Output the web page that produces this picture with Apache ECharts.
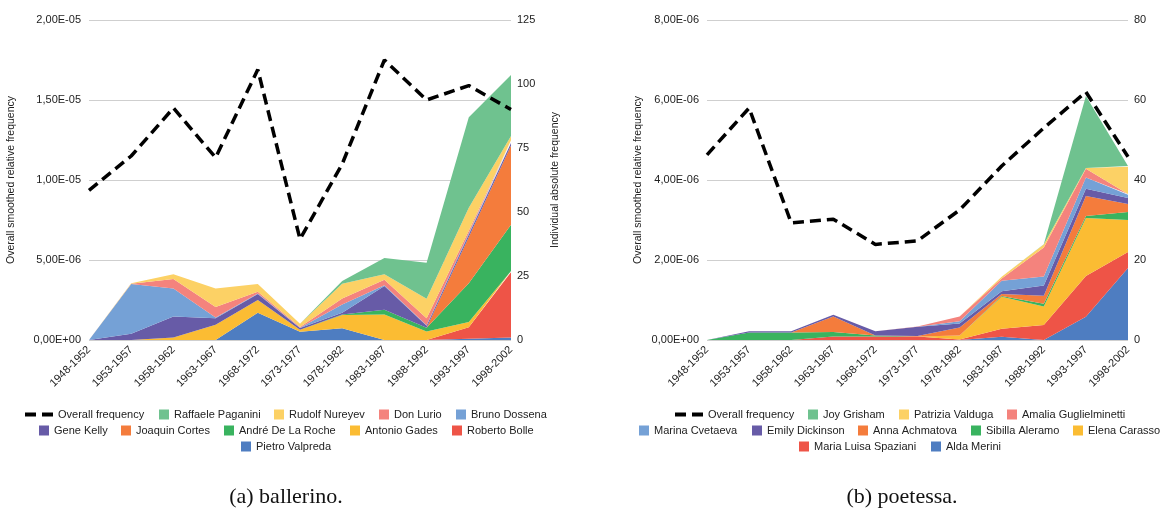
<!DOCTYPE html>
<html>
<head>
<meta charset="utf-8">
<script src="https://cdn.jsdelivr.net/npm/echarts@6/dist/echarts.min.js"></script>
<style>
  html, body { margin: 0; padding: 0; background: #fff; }
  #chart { width: 1164px; height: 515px; }
</style>
</head>
<body>
<div id="chart"></div>
<script>
// Five-year periods shared by both panels
const periods = ['1948-1952', '1953-1957', '1958-1962', '1963-1967', '1968-1972',
  '1973-1977', '1978-1982', '1983-1987', '1988-1992', '1993-1997', '1998-2002'];

// Panel (a) ballerino: overall smoothed relative frequency
const ballerinoOverall = [9.35e-6, 1.15e-5, 1.45e-5, 1.14e-5, 1.69e-5, 6.3e-6, 1.1e-5, 1.75e-5, 1.5e-5, 1.59e-5, 1.44e-5];
// Panel (a) individual absolute frequencies (stack bottom to top)
const pietroValpreda   = [0, 0, 0, 0, 10.6, 3.2, 4.6, 0, 0, 0.5, 1.0];
const robertoBolle     = [0, 0, 0, 0, 0, 0, 0, 0, 0, 4.5, 25.5];
const antonioGades     = [0, 0, 1.0, 6.0, 5.0, 0.8, 5.2, 10.0, 3.3, 2.0, 0.5];
const andreDeLaRoche   = [0, 0, 0, 0, 0, 0, 0.2, 1.8, 1.5, 15.2, 18];
const joaquinCortes    = [0, 0, 0, 0, 0, 0, 0, 0, 0, 18, 31];
const geneKelly        = [0, 2.4, 8.2, 2.5, 2.4, 0.7, 0.6, 9.3, 0.8, 1.0, 1.0];
const brunoDossena     = [0, 19.5, 10.9, 0.3, 0.2, 0.1, 3.3, 0.3, 0.2, 0.5, 0.3];
const donLurio         = [0, 0.1, 3.7, 4.1, 0.6, 0.3, 2.3, 2.1, 2.7, 1.0, 0.7];
const rudolfNureyev    = [0, 0.2, 1.9, 7.2, 3.1, 1.2, 5.8, 2.2, 7.6, 9.0, 1.7];
const raffaelePaganini = [0, 0, 0, 0, 0, 0, 1.0, 6.3, 14.1, 35.3, 23.8];

// Panel (b) poetessa: overall smoothed relative frequency
const poetessaOverall = [4.63e-6, 5.8e-6, 2.93e-6, 3.02e-6, 2.39e-6, 2.48e-6, 3.25e-6, 4.35e-6, 5.3e-6, 6.2e-6, 4.58e-6];
// Panel (b) individual absolute frequencies (stack bottom to top)
const aldaMerini           = [0, 0, 0, 0, 0, 0, 0, 0.8, 0, 5.8, 18];
const mariaLuisaSpaziani   = [0, 0, 0, 0.9, 0.9, 0.9, 0.1, 2.0, 3.75, 10.2, 4];
const elenaCarasso         = [0, 0, 0, 0, 0, 0, 1.0, 8.0, 4.6, 14.5, 8];
const sibillaAleramo       = [0, 1.9, 1.9, 1.1, 0.2, 0, 0, 0.2, 0.7, 0.5, 2];
const annaAchmatova        = [0, 0, 0, 3.9, 0, 0.1, 2.0, 0.5, 2.0, 5.0, 2];
const emilyDickinson       = [0, 0.3, 0.3, 0.4, 1.1, 2.3, 1.0, 0.7, 2.6, 1.8, 1.5];
const marinaCvetaeva       = [0, 0, 0, 0, 0, 0, 0.6, 2.6, 2.2, 2.8, 0.8];
const amaliaGuglielminetti = [0, 0, 0, 0, 0, 0.1, 1.2, 0.6, 7.3, 2.2, 0.2];
const patriziaValduga      = [0, 0, 0, 0, 0, 0, 0, 0.4, 0.7, 0.2, 6.8];
const joyGrisham           = [0, 0, 0, 0, 0, 0, 0, 0, 0.1, 18, 0.2];

// Palette, bottom of stack to top
const palette = ['#4e7dc1', '#ee5447', '#fbbc33', '#39b35f', '#f47c3c',
  '#675ba7', '#75a1d6', '#f4837d', '#fcd165', '#6fc28f'];

const ballerinoStack = [
  ['Pietro Valpreda', pietroValpreda], ['Roberto Bolle', robertoBolle],
  ['Antonio Gades', antonioGades], ['André De La Roche', andreDeLaRoche],
  ['Joaquin Cortes', joaquinCortes], ['Gene Kelly', geneKelly],
  ['Bruno Dossena', brunoDossena], ['Don Lurio', donLurio],
  ['Rudolf Nureyev', rudolfNureyev], ['Raffaele Paganini', raffaelePaganini]
];
const poetessaStack = [
  ['Alda Merini', aldaMerini], ['Maria Luisa Spaziani', mariaLuisaSpaziani],
  ['Elena Carasso', elenaCarasso], ['Sibilla Aleramo', sibillaAleramo],
  ['Anna Achmatova', annaAchmatova], ['Emily Dickinson', emilyDickinson],
  ['Marina Cvetaeva', marinaCvetaeva], ['Amalia Guglielminetti', amaliaGuglielminetti],
  ['Patrizia Valduga', patriziaValduga], ['Joy Grisham', joyGrisham]
];

const FONT = '"Liberation Sans", Arial, sans-serif';
const TEXT_COLOR = '#222';

function sciLabel(v) {
  const [m, e] = v.toExponential(2).split('e');
  const sign = e[0] === '-' ? '-' : '+';
  const digits = e.replace(/[+-]/, '').padStart(2, '0');
  return m.replace('.', ',') + 'E' + sign + digits;
}

const grids = [
  { left: 89, width: 422, top: 20, height: 320 },
  { left: 707, width: 421, top: 20, height: 320 }
];

function xAxisFor(gi) {
  return {
    type: 'category', gridIndex: gi, data: periods, boundaryGap: false,
    axisLine: { show: false }, axisTick: { show: false },
    axisLabel: { rotate: 45, fontSize: 11, fontFamily: FONT, color: TEXT_COLOR, margin: 8, interval: 0 }
  };
}

function leftAxis(gi, max, interval, nameGap) {
  return {
    type: 'value', gridIndex: gi, min: 0, max: max, interval: interval, position: 'left',
    name: 'Overall smoothed relative frequency', nameLocation: 'middle', nameGap: nameGap,
    nameTextStyle: { fontSize: 10.5, fontFamily: FONT, color: TEXT_COLOR },
    axisLine: { show: false }, axisTick: { show: false },
    splitLine: { lineStyle: { color: '#cfcfcf', width: 1 } },
    axisLabel: { formatter: sciLabel, fontSize: 11, fontFamily: FONT, color: TEXT_COLOR, margin: 8 }
  };
}

function rightAxis(gi, max, interval, name) {
  return {
    type: 'value', gridIndex: gi, min: 0, max: max, interval: interval, position: 'right',
    name: name, nameLocation: 'middle', nameGap: 39,
    nameTextStyle: { fontSize: 10.5, fontFamily: FONT, color: TEXT_COLOR },
    axisLine: { show: false }, axisTick: { show: false }, splitLine: { show: false },
    axisLabel: { fontSize: 11, fontFamily: FONT, color: TEXT_COLOR, margin: 6 }
  };
}

function panelSeries(gi, overall, stack, stackId) {
  const out = stack.map(([name, values], i) => ({
    name: name, type: 'line', xAxisIndex: gi, yAxisIndex: gi * 2 + 1,
    stack: stackId, data: values, symbol: 'none', showSymbol: false,
    lineStyle: { width: 0, color: palette[i] },
    itemStyle: { color: palette[i] },
    areaStyle: { color: palette[i], opacity: 1 },
    emphasis: { disabled: true }, z: 2
  }));
  out.push({
    name: 'Overall frequency', type: 'line', xAxisIndex: gi, yAxisIndex: gi * 2,
    data: overall, symbol: 'none', showSymbol: false,
    lineStyle: { color: '#000', width: 3.5, type: [11, 6] },
    itemStyle: { color: '#000' },
    emphasis: { disabled: true }, z: 5
  });
  return out;
}

// Legend layout: each entry is its own legend component, placed row by row
const measureCtx = document.createElement('canvas').getContext('2d');
measureCtx.font = '11px ' + FONT;
const BOX = 10, LINE_W = 28, TEXT_GAP = 5, ITEM_GAP = 14;
// Two short dashes for the overall-frequency key
const DASH_ICON = 'path://M0,0H11V4H0Z M17,0H28V4H17Z';

function legendRow(names, centerX, y) {
  const widths = names.map(n => (n === 'Overall frequency' ? LINE_W : BOX) + TEXT_GAP + measureCtx.measureText(n).width);
  const total = widths.reduce((a, b) => a + b, 0) + ITEM_GAP * (names.length - 1);
  let x = centerX - total / 2;
  return names.map((n, i) => {
    const isLine = n === 'Overall frequency';
    const lg = {
      data: [isLine ? { name: n, icon: DASH_ICON, itemStyle: { color: '#000' } } : { name: n, icon: 'rect' }],
      left: Math.round(x), top: isLine ? y - 7 : y - 7, padding: 0, itemGap: 0,
      itemWidth: isLine ? LINE_W : BOX, itemHeight: isLine ? 4 : BOX,
      selectedMode: false,
      textStyle: { fontSize: 11, fontFamily: FONT, color: TEXT_COLOR }
    };
    x += widths[i] + ITEM_GAP;
    return lg;
  });
}

const legends = [].concat(
  legendRow(['Overall frequency', 'Raffaele Paganini', 'Rudolf Nureyev', 'Don Lurio', 'Bruno Dossena'], 286, 416),
  legendRow(['Gene Kelly', 'Joaquin Cortes', 'André De La Roche', 'Antonio Gades', 'Roberto Bolle'], 286, 432),
  legendRow(['Pietro Valpreda'], 286, 448),
  legendRow(['Overall frequency', 'Joy Grisham', 'Patrizia Valduga', 'Amalia Guglielminetti'], 900, 416),
  legendRow(['Marina Cvetaeva', 'Emily Dickinson', 'Anna Achmatova', 'Sibilla Aleramo', 'Elena Carasso'], 900, 432),
  legendRow(['Maria Luisa Spaziani', 'Alda Merini'], 900, 448)
);

const CAPTION_FONT = '22px "Liberation Serif", "Times New Roman", serif';

const chart = echarts.init(document.getElementById('chart'), null, { renderer: 'canvas' });
chart.setOption({
  animation: false,
  backgroundColor: '#fff',
  grid: grids,
  xAxis: [xAxisFor(0), xAxisFor(1)],
  yAxis: [
    leftAxis(0, 2e-5, 5e-6, 72),
    rightAxis(0, 125, 25, 'Individual absolute frequency'),
    leftAxis(1, 8e-6, 2e-6, 63),
    rightAxis(1, 80, 20, '')
  ],
  legend: legends,
  series: [].concat(
    panelSeries(0, ballerinoOverall, ballerinoStack, 'ballerino'),
    panelSeries(1, poetessaOverall, poetessaStack, 'poetessa')
  ),
  graphic: [
    { type: 'text', x: 286, y: 497, style: { text: '(a) ballerino.', font: CAPTION_FONT, fill: '#111', align: 'center', verticalAlign: 'middle' } },
    { type: 'text', x: 902, y: 497, style: { text: '(b) poetessa.', font: CAPTION_FONT, fill: '#111', align: 'center', verticalAlign: 'middle' } }
  ]
});
</script>
</body>
</html>
